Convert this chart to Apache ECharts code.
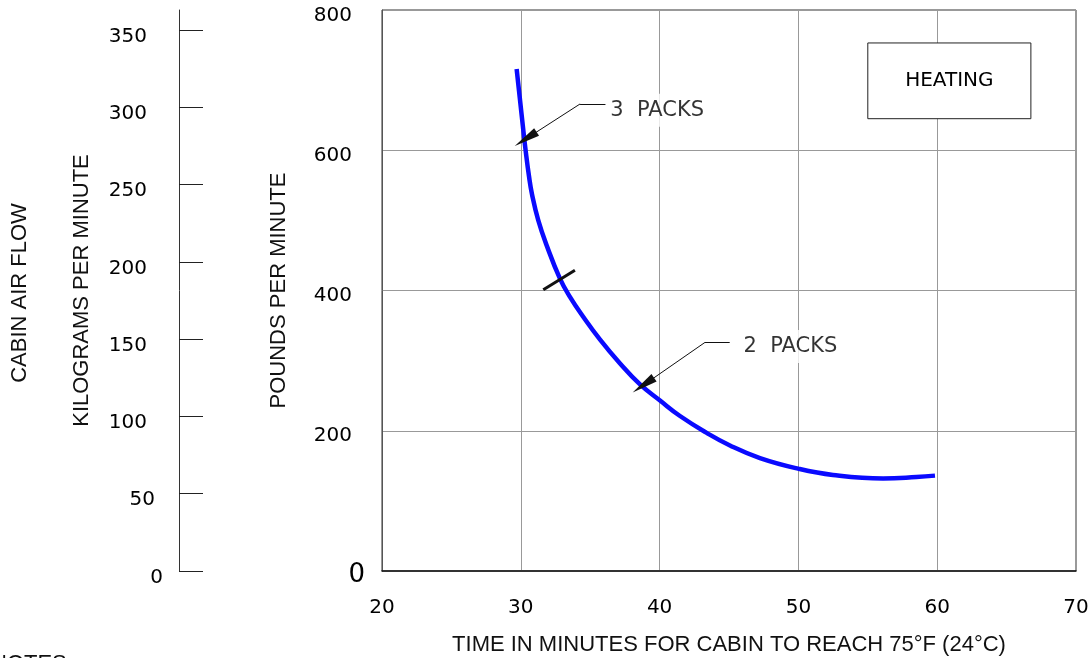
<!DOCTYPE html>
<html>
<head>
<meta charset="utf-8">
<script src="https://cdn.jsdelivr.net/npm/echarts@6/dist/echarts.min.js"></script>
<style>
  html, body { margin: 0; padding: 0; background: #fff; }
  #chart { width: 1089px; height: 658px; }
</style>
</head>
<body>
<div id="chart"></div>
<script>
// Cabin air flow (lb/min) against time for the cabin to warm up
const packsTime = [29.7, 29.92, 30.14, 30.37, 30.59, 30.81, 31.26, 31.87, 32.82, 33.54, 34.48, 35.71, 37.15, 38.59, 40.03, 41.47, 43.39, 45.07, 47.23, 49.97, 52.49, 56.1, 58.5, 59.84];
const packsFlow = [716, 676, 636, 596, 563, 537, 500, 464, 417, 391, 363, 330, 296, 266, 243, 221, 197, 179, 161, 146, 137, 132, 134, 136];

// short bar across the curve where 3-pack operation changes to 2-pack
const packDividerTime = [31.62, 33.9];
const packDividerFlow = [401, 429];

// callouts: label, text anchor, leader bend start/end, arrow tip
const calloutLabels = ['3  PACKS', '2  PACKS'];
const calloutText = [[36.3, 657], [45.9, 320]];
const calloutBendStart = [[34.27, 666], [43.27, 326]];
const calloutBendEnd = [[36.1, 666], [45.05, 326]];
const calloutTip = [[30.35, 616], [38.83, 265]];

// boxed mode label
const modeLabel = 'HEATING';
const modeBox = [[55.0, 753], [66.75, 645]];

// axis ticks
const timeTicks = [20, 30, 40, 50, 60, 70];
const lbTicks = [0, 200, 400, 600, 800];
const kgTicks = [0, 50, 100, 150, 200, 250, 300, 350];
const LB_PER_KG = 2.20462;

const tickFont = 'DejaVu Sans';
const titleFont = 'Liberation Sans';

const curveData = packsTime.map((t, i) => [t, packsFlow[i]]);
const dividerData = packDividerTime.map((t, i) => [t, packDividerFlow[i]]);

const arrowLines = [];
calloutLabels.forEach((_, i) => {
  arrowLines.push([
    { coord: calloutBendEnd[i], symbol: 'none' },
    { coord: calloutBendStart[i], symbol: 'none' }
  ]);
  arrowLines.push([
    { coord: calloutBendStart[i], symbol: 'none' },
    { coord: calloutTip[i], symbol: 'triangle', symbolSize: [9, 26] }
  ]);
});

const chart = echarts.init(document.getElementById('chart'));
chart.setOption({
  animation: false,
  backgroundColor: '#fff',
  grid: {
    left: 382, top: 10, right: 13, bottom: 87,
    outerBoundsMode: 'none', containLabel: false,
    show: true, borderColor: '#333', borderWidth: 1
  },
  xAxis: {
    type: 'value', min: timeTicks[0], max: timeTicks[timeTicks.length - 1], interval: 10,
    name: 'TIME IN MINUTES FOR CABIN TO REACH 75°F (24°C)',
    nameLocation: 'middle', nameGap: 63,
    nameTextStyle: { fontFamily: titleFont, fontSize: 22, color: '#111' },
    axisLine: { show: true, lineStyle: { color: '#111', width: 1.5 } },
    axisTick: { show: false },
    axisLabel: { fontFamily: tickFont, fontSize: 20, color: '#000', margin: 27 },
    splitLine: { show: true, lineStyle: { color: '#999', width: 1 } }
  },
  yAxis: [
    {
      type: 'value', min: lbTicks[0], max: lbTicks[lbTicks.length - 1], interval: 200,
      name: 'POUNDS PER MINUTE', nameLocation: 'middle', nameRotate: 90, nameGap: 92,
      nameTextStyle: { fontFamily: titleFont, fontSize: 22, color: '#111' },
      axisLine: { show: true, lineStyle: { color: '#555', width: 1 } },
      axisTick: { show: false },
      axisLabel: {
        margin: 17,
        formatter: v => v === 0 ? '{z|0}' : '{n|' + v + '}',
        rich: {
          n: { fontFamily: tickFont, fontSize: 20, color: '#000', padding: [11, 13, 0, 0] },
          z: { fontFamily: tickFont, fontSize: 26, color: '#000', padding: [8, 0, 0, 0] }
        }
      },
      splitLine: { show: true, lineStyle: { color: '#999', width: 1 } }
    },
    {
      type: 'value', position: 'left', offset: 203,
      min: 0, max: lbTicks[lbTicks.length - 1] / LB_PER_KG, interval: 50,
      name: 'KILOGRAMS PER MINUTE', nameLocation: 'middle', nameRotate: 90, nameGap: 86,
      nameTextStyle: { fontFamily: titleFont, fontSize: 22, color: '#111' },
      axisLine: { show: true, lineStyle: { color: '#333', width: 1 } },
      axisTick: { show: true, inside: true, length: 24, customValues: kgTicks, lineStyle: { color: '#222', width: 1 } },
      axisLabel: {
        margin: 16, customValues: kgTicks,
        formatter: v => v === 0 ? '{z|0}' : (v === 50 ? '{f|50}' : '{n|' + v + '}'),
        rich: {
          n: { fontFamily: tickFont, fontSize: 20, color: '#000', padding: [13, 16, 0, 0] },
          f: { fontFamily: tickFont, fontSize: 20, color: '#000', padding: [13, 8, 0, 0] },
          z: { fontFamily: tickFont, fontSize: 20, color: '#000', padding: [13, 0, 0, 0] }
        }
      },
      splitLine: { show: false }
    }
  ],
  graphic: [
    {
      type: 'text', x: 20, y: 293, rotation: Math.PI / 2,
      style: { text: 'CABIN AIR FLOW', font: '22px "Liberation Sans"', fill: '#111', align: 'center', verticalAlign: 'middle' }
    },
    {
      type: 'text', left: -9, top: 653,
      style: { text: 'NOTES', font: '22px "Liberation Sans"', fill: '#111' }
    }
  ],
  series: [
    {
      type: 'line', data: curveData, smooth: 0.45, symbol: 'none', z: 3,
      lineStyle: { color: '#0a0aff', width: 4.5 },
      markArea: {
        silent: true,
        itemStyle: { color: '#fff', borderColor: '#222', borderWidth: 1 },
        label: { show: true, position: 'inside', fontFamily: tickFont, fontSize: 20, color: '#000' },
        data: [[{ coord: modeBox[0], name: modeLabel }, { coord: modeBox[1] }]]
      }
    },
    {
      type: 'line', data: dividerData, symbol: 'none', z: 4,
      lineStyle: { color: '#111', width: 3 },
      markLine: {
        silent: true, animation: false,
        label: { show: false },
        lineStyle: { color: '#111', width: 1, type: 'solid' },
        itemStyle: { color: '#111' },
        data: arrowLines
      }
    },
    {
      type: 'scatter', symbolSize: 0, z: 5,
      data: calloutLabels.map((name, i) => ({ name, value: calloutText[i] })),
      label: {
        show: true, position: 'right', distance: 0, formatter: '{b}',
        fontFamily: tickFont, fontSize: 21, color: '#000',
        backgroundColor: '#fff', padding: [6, 2, 6, 2]
      }
    }
  ]
});
</script>
</body>
</html>
